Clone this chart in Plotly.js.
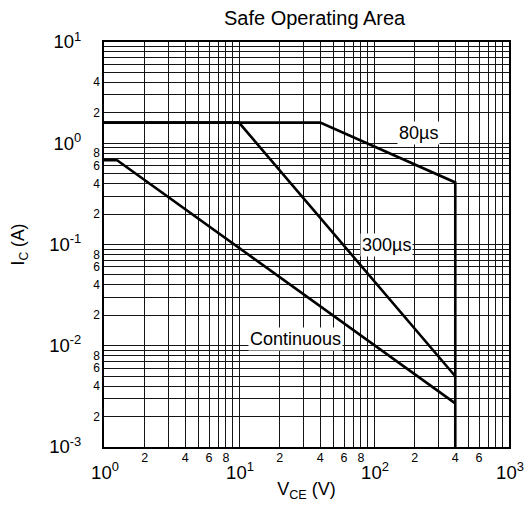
<!DOCTYPE html>
<html>
<head>
<meta charset="utf-8">
<script src="https://cdn.plot.ly/plotly-3.0.1.min.js"></script>
<style>
  html, body { margin: 0; padding: 0; background: #fff; }
  #chart { width: 525px; height: 515px; }
</style>
</head>
<body>
<div id="chart"></div>
<script>
// Safe operating area boundaries, collector current (A) vs collector-emitter voltage (V)
const vce80us = [1, 40, 400, 400];
const ic80us = [1.6, 1.6, 0.41, 0.001];

const vce300us = [1, 10, 400];
const ic300us = [1.6, 1.6, 0.005];

const vceDC = [1, 1.25, 400];
const icDC = [0.68, 0.68, 0.0027];

// Decade tick labels
const xMajorVals = [1, 10, 100, 1000];
const xMajorText = ['10<sup>0</sup>', '10<sup>1</sup>', '10<sup>2</sup>', '10<sup>3</sup>'];
const yMajorVals = [0.001, 0.01, 0.1, 1, 10];
const yMajorText = ['10<sup>-3</sup>', '10<sup>-2</sup>', '10<sup>-1</sup>', '10<sup>0</sup>', '10<sup>1</sup>'];

// In-decade gridlines
const xGridVals = [2, 3, 4, 5, 6, 7, 8, 9,
                   20, 30, 40, 50, 60, 70, 80, 90,
                   200, 300, 400, 500, 600, 700, 800, 900];
const yGridVals = [0.002, 0.003, 0.004, 0.005, 0.006, 0.007, 0.008, 0.009,
                   0.02, 0.03, 0.04, 0.05, 0.06, 0.07, 0.08, 0.09,
                   0.2, 0.3, 0.4, 0.5, 0.6, 0.7, 0.8, 0.9,
                   2, 3, 4, 5, 6, 7, 8, 9];

// Digit labels inside each decade
const xDigitVals = [2, 4, 6, 8, 20, 40, 60, 80, 200, 400, 600];
const xDigitText = ['2', '4', '6', '8', '2', '4', '6', '8', '2', '4', '6'];
const yDigitVals = [0.002, 0.004, 0.006, 0.008, 0.02, 0.04, 0.06, 0.08,
                    0.2, 0.4, 0.6, 0.8, 2, 4];
const yDigitText = ['2', '4', '6', '8', '2', '4', '6', '8',
                    '2', '4', '6', '8', '2', '4'];

const FONT = 'Liberation Sans, Arial, Helvetica, sans-serif';
const GRID = '#141414';

const curve = (x, y) => ({
  x: x, y: y, type: 'scatter', mode: 'lines',
  line: { color: '#000', width: 2.6 },
  hoverinfo: 'skip', showlegend: false
});

const traces = [
  curve(vce80us, ic80us),
  curve(vce300us, ic300us),
  curve(vceDC, icDC),
  // registers the digit-label axes
  { x: [], y: [], xaxis: 'x2', yaxis: 'y2', type: 'scatter', mode: 'lines',
    hoverinfo: 'skip', showlegend: false }
];

const label = (vx, vy, text) => ({
  x: Math.log10(vx), y: Math.log10(vy), xref: 'x', yref: 'y',
  text: text, showarrow: false, bgcolor: '#fff', borderpad: 1,
  font: { family: FONT, size: 18, color: '#000' }
});

const minorGrid = (vals) => ({
  tickmode: 'array', tickvals: vals, ticks: '',
  showgrid: true, gridcolor: GRID, gridwidth: 1
});

const layout = {
  width: 525, height: 515,
  margin: { l: 104, r: 16, t: 42, b: 68 },
  paper_bgcolor: '#fff', plot_bgcolor: '#fff',
  font: { family: FONT, color: '#000' },
  title: {
    text: 'Safe Operating Area',
    font: { family: FONT, size: 20, color: '#000' },
    xref: 'paper', x: 0.52, xanchor: 'center',
    yref: 'container', y: 0.965, yanchor: 'middle'
  },
  xaxis: {
    type: 'log', range: [0, 3],
    tickmode: 'array', tickvals: xMajorVals, ticktext: xMajorText,
    tickfont: { size: 18.5 }, ticks: '', ticklabelstandoff: 8, ticklabelshift: 1,
    ticklabeloverflow: 'allow',
    showgrid: true, gridcolor: GRID, gridwidth: 1,
    minor: minorGrid(xGridVals),
    showline: true, linecolor: '#000', linewidth: 2, mirror: true,
    zeroline: false, fixedrange: true,
    title: { text: 'V<sub>CE</sub> (V)', font: { size: 18 }, standoff: 0 }
  },
  xaxis2: {
    type: 'log', range: [0, 3], overlaying: 'x', anchor: 'y', side: 'bottom',
    tickmode: 'array', tickvals: xDigitVals, ticktext: xDigitText,
    tickfont: { size: 12.5 }, ticks: '', ticklabelstandoff: 1,
    showgrid: false, showline: false, zeroline: false, fixedrange: true
  },
  yaxis: {
    type: 'log', range: [-3, 1],
    tickmode: 'array', tickvals: yMajorVals, ticktext: yMajorText,
    tickfont: { size: 18.5 }, ticks: '', ticklabelstandoff: 17,
    ticklabeloverflow: 'allow',
    showgrid: true, gridcolor: GRID, gridwidth: 1,
    minor: minorGrid(yGridVals),
    showline: true, linecolor: '#000', linewidth: 2, mirror: true,
    zeroline: false, fixedrange: true,
    title: { text: 'I<sub>C</sub> (A)', font: { size: 17.5 }, standoff: 20 }
  },
  yaxis2: {
    type: 'log', range: [-3, 1], overlaying: 'y', anchor: 'x', side: 'left',
    tickmode: 'array', tickvals: yDigitVals, ticktext: yDigitText,
    tickfont: { size: 12 }, ticks: '', ticklabelstandoff: 3,
    showgrid: false, showline: false, zeroline: false, fixedrange: true
  },
  annotations: [
    label(215, 1.26, '80µs'),
    label(123, 0.0995, '300µs'),
    label(26.4, 0.0117, 'Continuous')
  ]
};

Plotly.newPlot('chart', traces, layout, { displayModeBar: false, staticPlot: true });
</script>
</body>
</html>
